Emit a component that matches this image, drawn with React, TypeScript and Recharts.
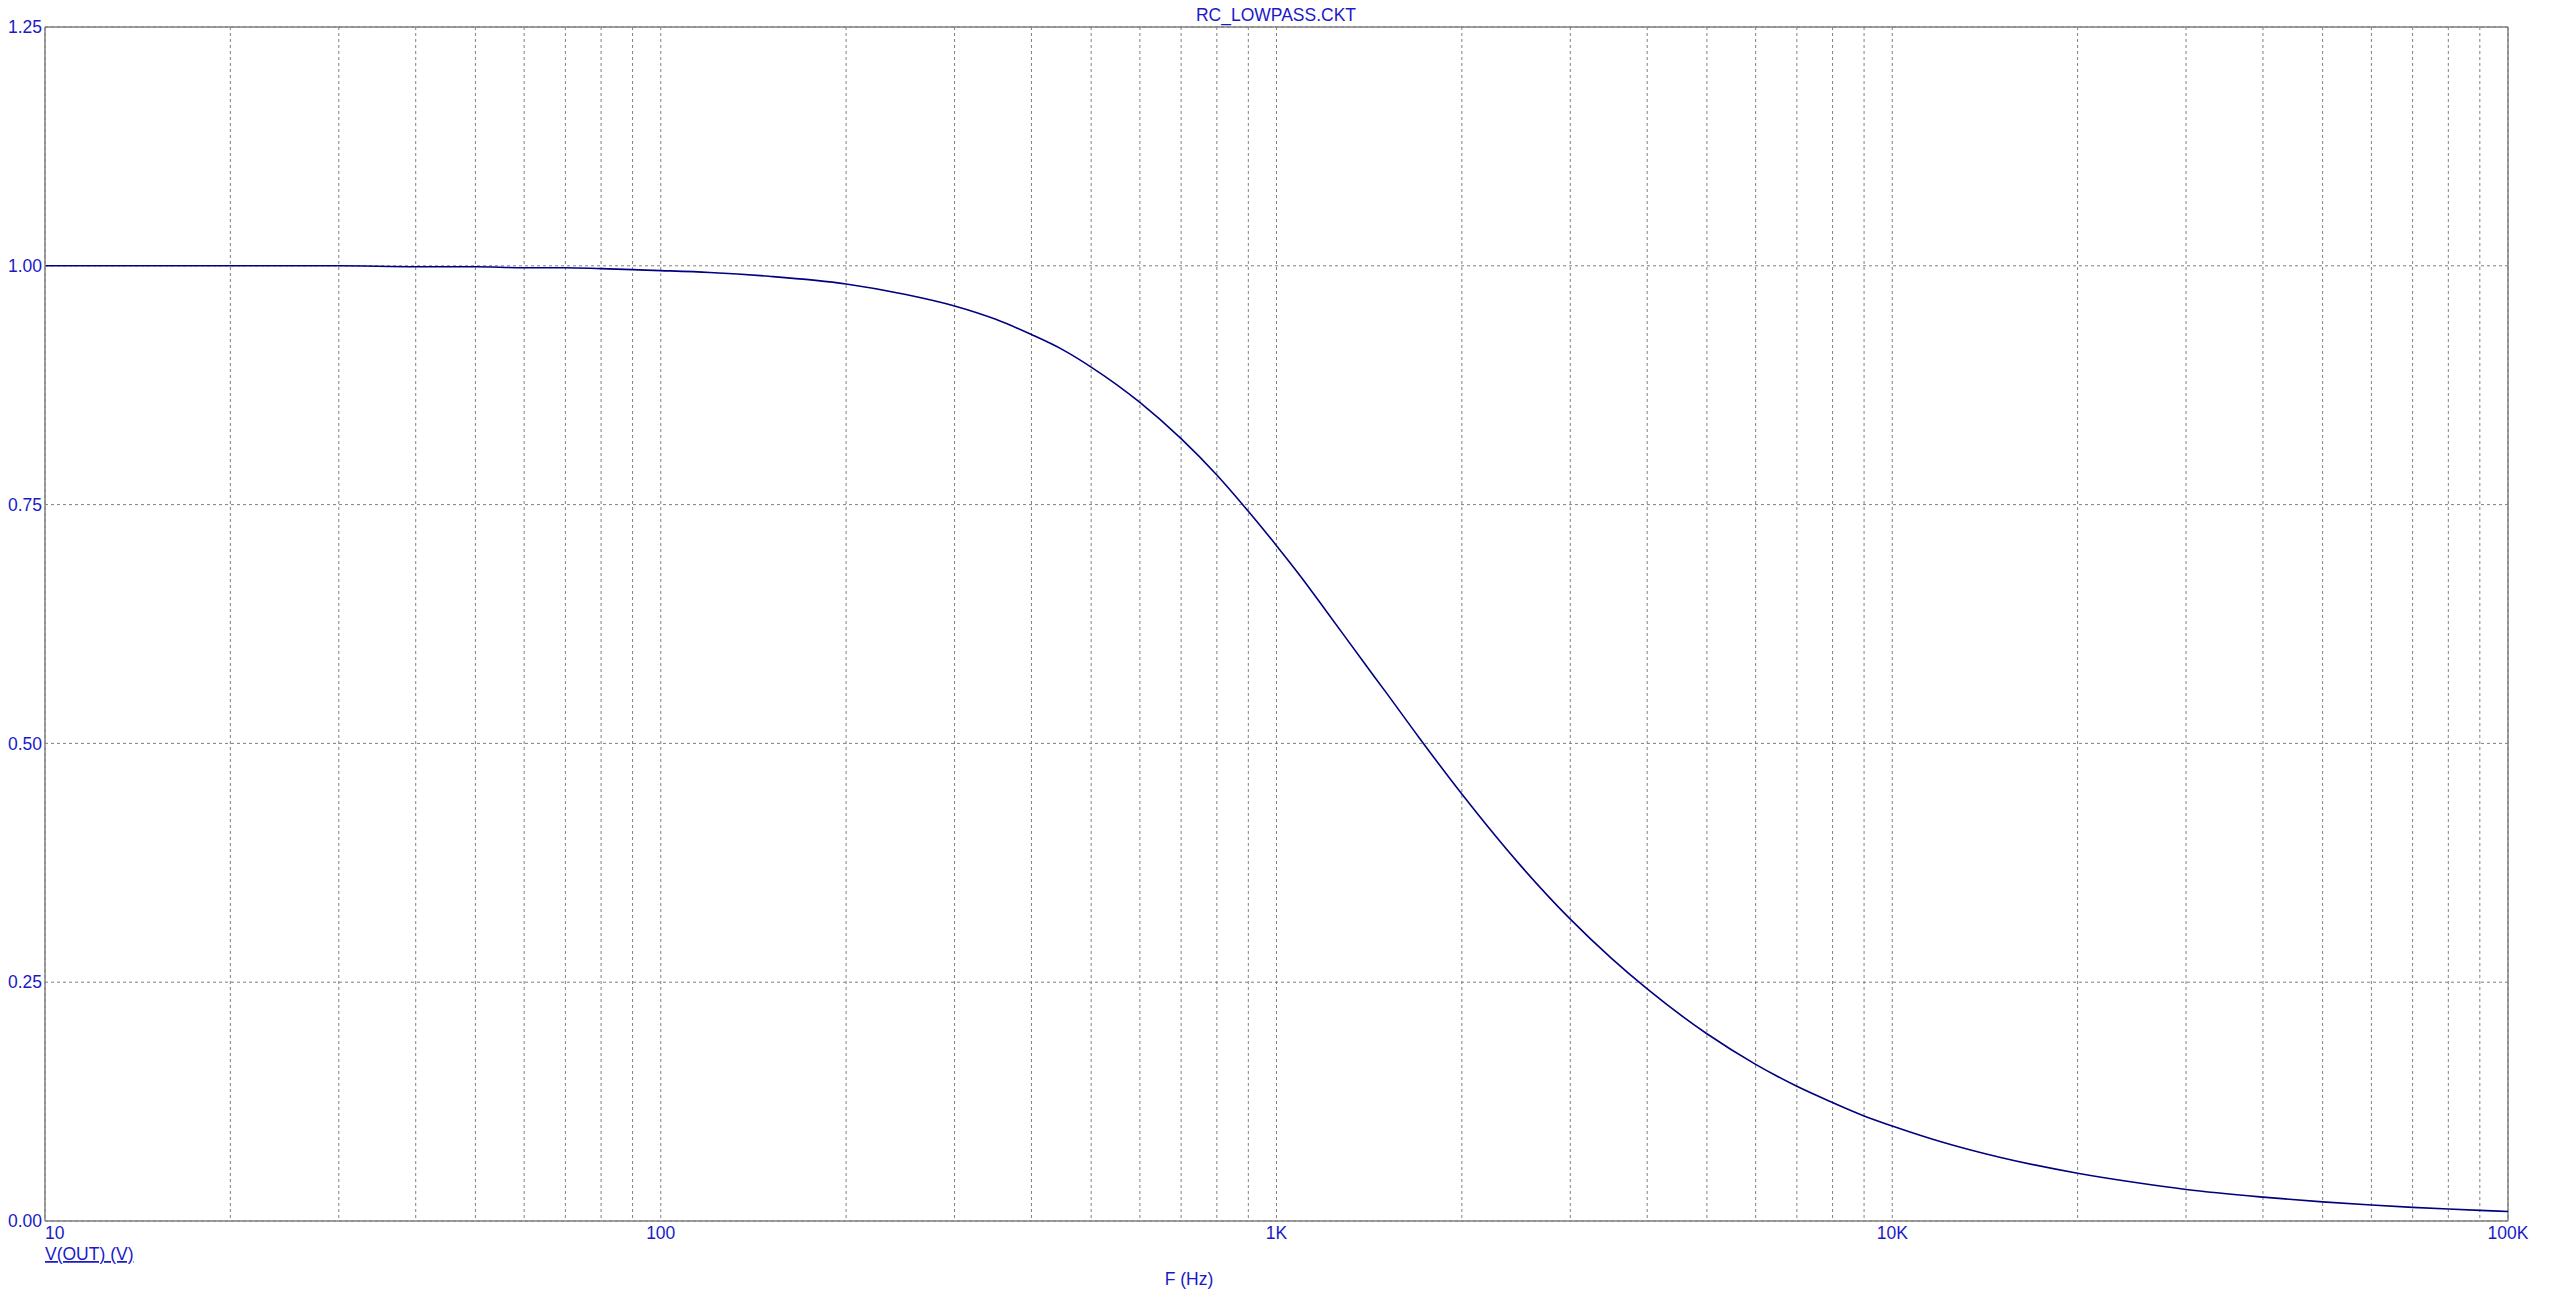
import React from "react";
import {
  Line,
  XAxis,
  YAxis,
  LineChart,
  CartesianGrid,
  ReferenceLine,
} from "recharts";

// frequency sweep (Hz) and output voltage
const freqs = [
  10, 12, 15, 20, 25, 30, 40, 50, 60, 70, 80, 90, 100, 120, 150, 200, 250, 300,
  350, 400, 450, 500, 600, 700, 800, 900, 1000, 1100, 1200, 1400, 1500, 1700,
  2000, 2500, 3000, 3500, 4000, 5000, 6000, 7000, 8000, 9000, 10000, 12000,
  15000, 20000, 25000, 30000, 40000, 50000, 60000, 70000, 80000, 90000, 100000,
];
const vout = [
  1.0, 1.0, 1.0, 1.0, 1.0, 1.0, 0.999, 0.999, 0.998, 0.998, 0.997, 0.996, 0.995,
  0.993, 0.989, 0.981, 0.97, 0.958, 0.944, 0.928, 0.912, 0.894, 0.857, 0.819,
  0.781, 0.743, 0.707, 0.673, 0.64, 0.581, 0.555, 0.507, 0.447, 0.371, 0.316,
  0.275, 0.243, 0.196, 0.164, 0.141, 0.124, 0.11, 0.0995, 0.083, 0.0665, 0.05,
  0.04, 0.033, 0.025, 0.02, 0.0167, 0.0143, 0.0125, 0.0111, 0.01,
];

const xTicks = [
  10, 20, 30, 40, 50, 60, 70, 80, 90, 100, 200, 300, 400, 500, 600, 700, 800,
  900, 1000, 2000, 3000, 4000, 5000, 6000, 7000, 8000, 9000, 10000, 20000,
  30000, 40000, 50000, 60000, 70000, 80000, 90000, 100000,
];
const xLabels: Record<number, string> = {
  10: "10",
  100: "100",
  1000: "1K",
  10000: "10K",
  100000: "100K",
};
const yTicks = [0, 0.25, 0.5, 0.75, 1.0, 1.25];

const data = freqs.map((f, i) => ({ f, v: vout[i] }));

const W = 2556;
const H = 1306;
const FONT = "'Liberation Sans', Arial, sans-serif";
const BLUE = "#1a1ac8";
const GRAY = "#808080";

const XTick = (props: any) => {
  const { x, y, payload } = props;
  const label = xLabels[payload.value];
  if (!label) return null;
  return (
    <text
      x={x}
      y={y}
      dy="0.71em"
      textAnchor={payload.value === 10 ? "start" : "middle"}
      fill={BLUE}
      fontSize={17.5}
      fontFamily={FONT}
    >
      {label}
    </text>
  );
};

const App = () => {
  return (
    <div style={{ position: "absolute", left: 0, top: 0, width: W, height: H, background: "#fff" }}>
      <LineChart
        width={W}
        height={H}
        data={data}
        margin={{ top: 27, right: 48, left: 0, bottom: 0 }}
      >
        <CartesianGrid stroke={GRAY} strokeDasharray="3 3" />
        <XAxis
          dataKey="f"
          type="number"
          scale="log"
          domain={[10, 100000]}
          allowDataOverflow
          ticks={xTicks}
          interval={0}
          tickLine={false}
          tickSize={0}
          tickMargin={6}
          height={85}
          axisLine={{ stroke: GRAY, strokeWidth: 1.5 }}
          tick={<XTick />}
        />
        <YAxis
          type="number"
          domain={[0, 1.25]}
          ticks={yTicks}
          interval={0}
          width={45}
          tickLine={false}
          tickSize={0}
          tickMargin={3}
          axisLine={{ stroke: GRAY, strokeWidth: 1.5 }}
          tickFormatter={(v: number) => v.toFixed(2)}
          tick={{ fill: BLUE, fontSize: 17.5, fontFamily: FONT }}
        />
        <ReferenceLine y={1.25} stroke={GRAY} strokeWidth={1.5} />
        <ReferenceLine x={100000} stroke={GRAY} strokeWidth={1.5} />
        <Line
          type="monotone"
          dataKey="v"
          stroke="#000080"
          strokeWidth={1.6}
          dot={false}
          isAnimationActive={false}
        />
      </LineChart>
      <svg
        width={W}
        height={H}
        style={{ position: "absolute", left: 0, top: 0, pointerEvents: "none" }}
      >
        <text x={1276} y={21} textAnchor="middle" fill={BLUE} fontSize={17.5} fontFamily={FONT}>
          RC_LOWPASS.CKT
        </text>
        <text x={45} y={1260} fill={BLUE} fontSize={17.5} fontFamily={FONT} textDecoration="underline">
          V(OUT) (V)
        </text>
        <text x={1189} y={1285} textAnchor="middle" fill={BLUE} fontSize={17.5} fontFamily={FONT}>
          F (Hz)
        </text>
      </svg>
    </div>
  );
};

export default App;
